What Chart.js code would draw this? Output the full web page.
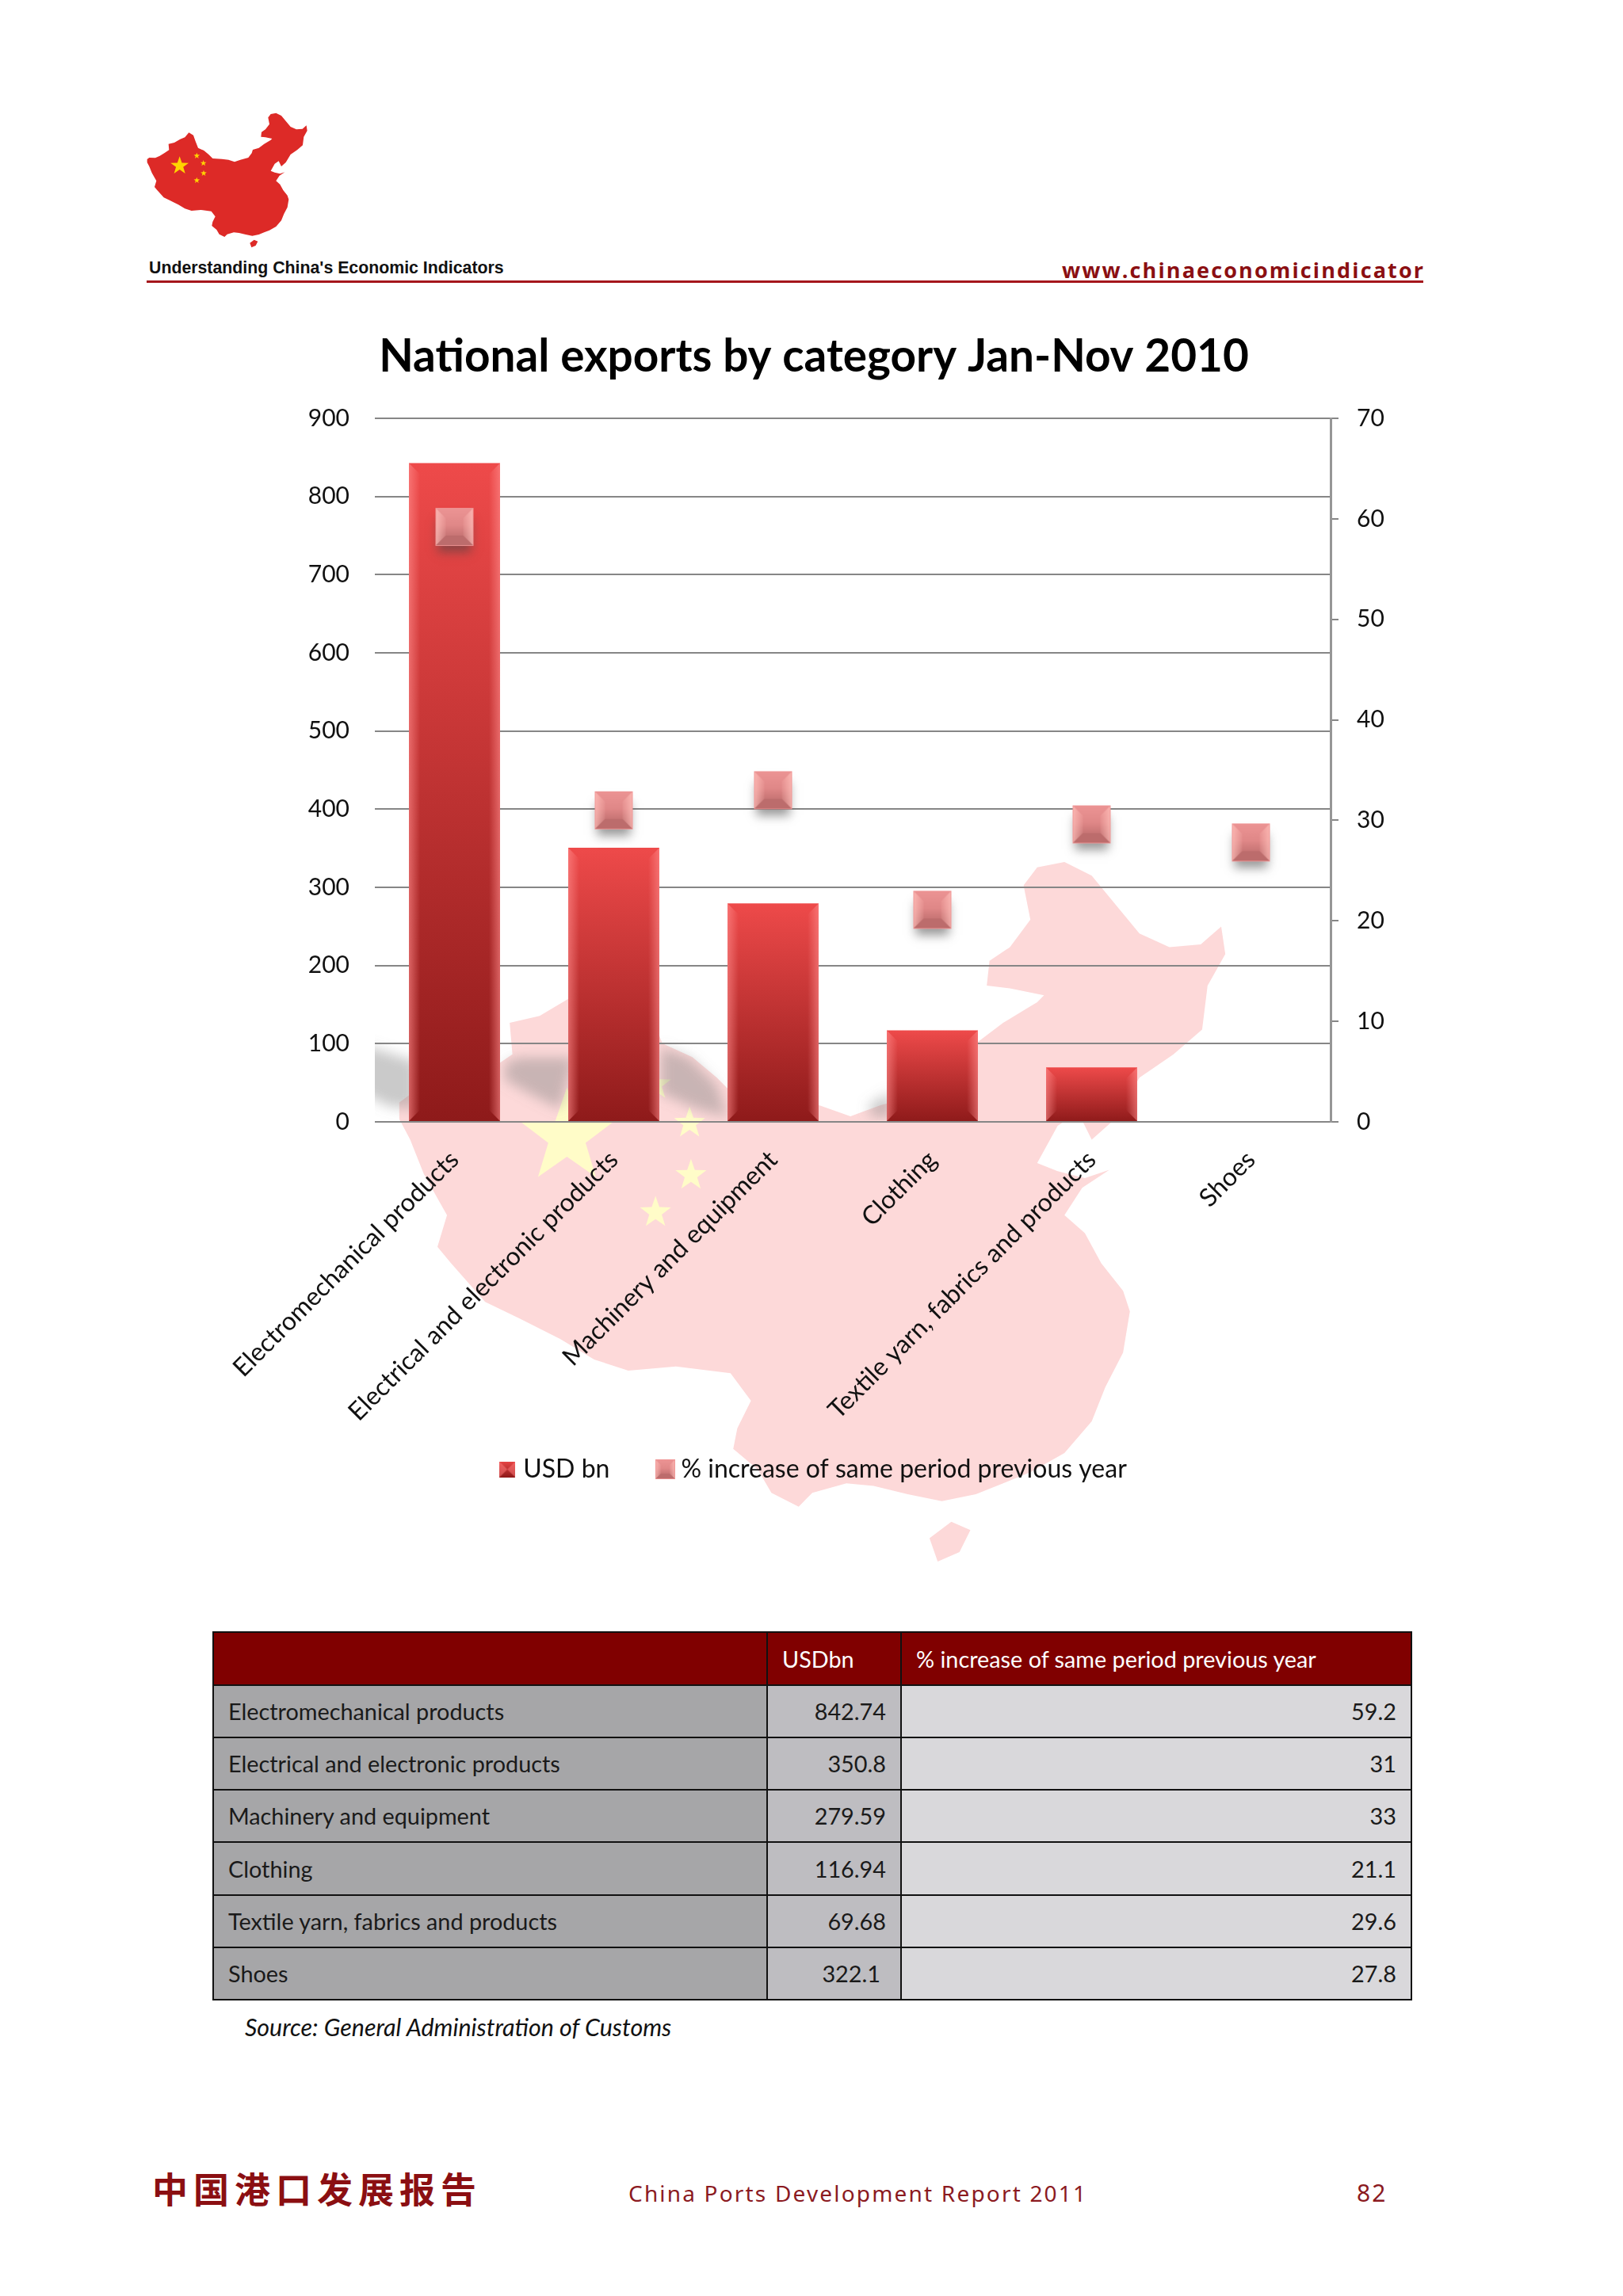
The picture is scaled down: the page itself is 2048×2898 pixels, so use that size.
<!DOCTYPE html>
<html>
<head>
<meta charset="utf-8">
<title>National exports by category Jan-Nov 2010</title>
<script src="https://cdn.jsdelivr.net/npm/chart.js@4"></script>
<style>
html, body { margin: 0; padding: 0; background: #fff; }
#page { position: relative; width: 2048px; height: 2898px; overflow: hidden; font-family: Lato, sans-serif; }
#page > * { position: absolute; }
#art { left: 0; top: 0; }
#chart { left: 0; top: 400px; }
.tag { left: 188px; top: 326px; font: bold 21.3px "Liberation Sans", sans-serif; color: #111; white-space: nowrap; }
.site { left: 1340px; top: 322px; font: bold 27px "Open Sans", sans-serif; letter-spacing: 2.13px; color: #8b0f12; white-space: nowrap; }
.rule { left: 185px; top: 354px; width: 1611px; height: 3px; background: #a5161b; }
table { left: 268px; top: 2059px; width: 1514px; height: 466px; border-collapse: collapse; table-layout: fixed; font-size: 28.8px; color: #1a1a1a; }
td, th { border: 2px solid #111; padding: 0 18px; font-weight: normal; text-align: right; white-space: nowrap; }
th { background: #800000; color: #fff; text-align: left; }
td.name { background: #a6a6a8; text-align: left; }
td.usd { background: #bebdc1; }
td.pct { background: #d9d8db; }
.source { left: 309px; top: 2540px; font-size: 30.4px; font-style: italic; white-space: nowrap; color: #111; }
.cn { left: 192px; top: 2729px; font: bold 45px "Noto Sans CJK SC", sans-serif; letter-spacing: 7px; color: #8b0f12; white-space: nowrap; }
.rep { left: 793px; top: 2749px; font: 28px "Noto Sans", sans-serif; letter-spacing: 2.18px; color: #8b1a1f; white-space: nowrap; }
.num { left: 1712px; top: 2747px; font: 30px "Noto Sans", sans-serif; letter-spacing: 2px; color: #8b1a1f; }
</style>
</head>
<body>
<div id="page">
  <svg id="art" width="2048" height="2898"></svg>
  <div class="tag">Understanding China's Economic Indicators</div>
  <div class="site">www.chinaeconomicindicator</div>
  <div class="rule"></div>
  <canvas id="chart" width="2048" height="1514"></canvas>
  <table id="tabela"></table>
  <div class="source">Source: General Administration of Customs</div>
  <div class="cn">中国港口发展报告</div>
  <div class="rep">China Ports Development Report 2011</div>
  <div class="num">82</div>
</div>
<script>
const categorias = ['Electromechanical products', 'Electrical and electronic products', 'Machinery and equipment', 'Clothing', 'Textile yarn, fabrics and products', 'Shoes'];
const usdBn = [842.74, 350.8, 279.59, 116.94, 69.68, null];
const aumento = [59.2, 31, 33, 21.1, 29.6, 27.8];
const usdTabela = ['842.74', '350.8', '279.59', '116.94', '69.68', '322.1'];
const aumentoTabela = ['59.2', '31', '33', '21.1', '29.6', '27.8'];
const titulo = 'National exports by category Jan-Nov 2010';
const nomeUsd = 'USD bn';
const nomeAumento = '% increase of same period previous year';

const pontos = [47,213, 55,207, 78,208, 95,200, 112,190, 130,178, 128,155, 150,150, 172,137, 190,130, 205,112, 222,122, 230,145, 240,170, 262,180, 280,195, 295,210, 330,212, 355,215, 378,223, 400,215, 430,207, 443,190, 447,177, 470,170, 490,155, 515,140, 520,135, 495,130, 478,128, 480,110, 495,100, 510,80, 505,55, 515,42, 535,38, 555,48, 575,72, 590,90, 612,100, 635,98, 650,85, 653,105, 640,128, 636,160, 615,178, 590,195, 572,225, 555,240, 545,220, 530,230, 515,257, 530,263, 550,268, 568,262, 548,275, 535,295, 550,308, 562,330, 578,350, 583,365, 578,395, 565,420, 555,445, 535,468, 510,482, 490,490, 470,498, 445,503, 420,498, 395,492, 375,490, 350,497, 340,507, 320,497, 310,480, 292,465, 295,450, 305,430, 290,410, 250,405, 215,408, 190,400, 165,385, 135,370, 110,358, 85,330, 75,318, 82,295, 65,265, 55,240, 47,225];
const ilha = [436,530, 452,518, 466,524, 458,540, 442,547];

function caminho(p) {
    let s = '';
    for (let i = 0; i < p.length; i += 2) s += (i ? 'L' : 'M') + p[i] + ',' + p[i + 1] + ' ';
    return s + 'Z ';
}

function estrela(cx, cy, r) {
    let p = [];
    for (let i = 0; i < 10; i++) {
        let rr = i % 2 ? r * 0.4 : r;
        let a = -Math.PI / 2 + i * Math.PI / 5;
        p.push((cx + rr * Math.cos(a)).toFixed(1) + ',' + (cy + rr * Math.sin(a)).toFixed(1));
    }
    return '<polygon points="' + p.join(' ') + '"/>';
}

function mapa(transform, cor, corEstrela) {
    return '<g transform="' + transform + '"><path d="' + caminho(pontos) + caminho(ilha) + '" fill="' + cor + '"/><g fill="' + corEstrela + '">' +
        estrela(170, 238, 36) + estrela(235, 200, 12) + estrela(260, 228, 12) + estrela(261, 266, 12) + estrela(235, 293, 12) + '</g></g>';
}

document.getElementById('art').innerHTML =
    '<defs><filter id="blur" x="-50%" y="-50%" width="200%" height="200%"><feGaussianBlur stdDeviation="8"/></filter>' +
    '<clipPath id="area"><rect x="473" y="1200" width="1206" height="214"/></clipPath></defs>' +
    mapa('translate(170,130) scale(0.3333)', '#dd2a27', '#ffd400') +
    mapa('translate(423,1022) scale(1.72,1.735)', '#fdd9d9', '#fffcc8') +
    '<g clip-path="url(#area)"><g filter="url(#blur)" fill="#808080" fill-opacity="0.42">' +
    '<path d="M455,1318 L525,1340 L525,1400 L490,1396 L455,1378 Z"/>' +
    '<path d="M637,1343 L653,1335 L725,1335 L707,1400 L673,1383 L637,1363 Z"/>' +
    '<path d="M834,1322 L870,1335 L905,1370 L918,1410 L880,1400 L834,1380 Z"/>' +
    '<path d="M1096,1395 L1125,1378 L1125,1410 L1100,1410 Z"/></g></g>';

// table
let linhas = '<tr style="height:67px"><th style="width:661px"></th><th style="width:131px">USDbn</th><th>' + nomeAumento + '</th></tr>';
categorias.forEach(function (c, i) {
    let extra = usdTabela[i] === '322.1' ? ' style="padding-right:25px"' : '';
    linhas += '<tr><td class="name">' + c + '</td><td class="usd"' + extra + '>' + usdTabela[i] + '</td><td class="pct">' + aumentoTabela[i] + '</td></tr>';
});
document.getElementById('tabela').innerHTML = linhas;

function poligono(g, p, cor) {
    g.fillStyle = cor;
    g.beginPath();
    g.moveTo(p[0], p[1]); g.lineTo(p[2], p[3]); g.lineTo(p[4], p[5]); g.lineTo(p[6], p[7]);
    g.closePath();
    g.fill();
}

// bevelled square used as point style
function quadrado(lado, borda, margem, sombra) {
    let c = document.createElement('canvas');
    c.width = c.height = lado + margem * 2;
    let g = c.getContext('2d');
    let a = margem, b = margem + lado;
    if (sombra) {
        g.save();
        g.shadowColor = 'rgba(70,70,70,0.55)';
        g.shadowBlur = 12;
        g.shadowOffsetY = 11;
        g.fillStyle = '#c88';
        g.fillRect(a + 3, a + 3, lado - 6, lado - 6);
        g.restore();
    }
    let f = g.createLinearGradient(0, a, 0, b);
    f.addColorStop(0, '#ec9494');
    f.addColorStop(0.45, '#e08888');
    f.addColorStop(1, '#b06262');
    g.fillStyle = f;
    g.fillRect(a, a, lado, lado);
    let i = a + borda, j = b - borda;
    let esq = g.createLinearGradient(a, 0, i, 0);
    esq.addColorStop(0, 'rgba(255,190,185,0.8)');
    esq.addColorStop(1, 'rgba(255,190,185,0.1)');
    let dir = g.createLinearGradient(b, 0, j, 0);
    dir.addColorStop(0, 'rgba(255,190,185,0.8)');
    dir.addColorStop(1, 'rgba(255,190,185,0.1)');
    poligono(g, [a, a, i, i, i, j, a, b], esq);
    poligono(g, [b, a, j, i, j, j, b, b], dir);
    poligono(g, [a, b, i, j, j, j, b, b], '#bc6c6c');
    g.strokeStyle = 'rgba(240,150,150,0.9)';
    g.lineWidth = 1;
    g.strokeRect(a + 0.5, a + 0.5, lado - 1, lado - 1);
    return c;
}

function quadradoUsd(lado) {
    let c = document.createElement('canvas');
    c.width = c.height = lado;
    let g = c.getContext('2d');
    let f = g.createLinearGradient(0, 0, 0, lado);
    f.addColorStop(0, '#e84545');
    f.addColorStop(1, '#8f1a1a');
    g.fillStyle = f;
    g.fillRect(0, 0, lado, lado);
    g.fillStyle = 'rgba(255,120,120,0.55)';
    g.beginPath();
    g.moveTo(0, 0); g.lineTo(lado / 2, lado / 2); g.lineTo(0, lado); g.closePath();
    g.moveTo(lado, 0); g.lineTo(lado / 2, lado / 2); g.lineTo(lado, lado); g.closePath();
    g.fill();
    return c;
}

// bevel of the bars
const chanfro = {
    id: 'chanfro',
    afterDatasetDraw(chart, args) {
        if (args.index !== 0) return;
        let g = chart.ctx;
        args.meta.data.forEach(function (bar) {
            if (bar.skip || bar.base - bar.y < 1) return;
            let l = bar.x - bar.width / 2, r = bar.x + bar.width / 2, t = bar.y, b = bar.base, e = 14;
            let esq = g.createLinearGradient(l, 0, l + e, 0);
            esq.addColorStop(0, 'rgba(255,140,140,0.6)');
            esq.addColorStop(1, 'rgba(255,140,140,0)');
            let dir = g.createLinearGradient(r, 0, r - e, 0);
            dir.addColorStop(0, 'rgba(255,140,140,0.6)');
            dir.addColorStop(1, 'rgba(255,140,140,0)');
            g.save();
            poligono(g, [l, t, l + e, t + e, l + e, b - e, l, b], esq);
            poligono(g, [r, t, r - e, t + e, r - e, b - e, r, b], dir);
            g.restore();
        });
    }
};

// the long x labels need a tall axis box, the legend sits inside it
const moveLegenda = {
    id: 'moveLegenda',
    afterLayout(chart) {
        let l = chart.legend;
        l.top -= 33.4;
        l.bottom -= 33.4;
        l.left += 2;
        l.right += 2;
    }
};

const cinza = '#868686';
const fonte = 'Lato, sans-serif';

new Chart(document.getElementById('chart'), {
    data: {
        labels: categorias,
        datasets: [{
            type: 'bar',
            label: nomeUsd,
            data: usdBn,
            yAxisID: 'y',
            order: 2,
            barPercentage: 0.572,
            categoryPercentage: 1,
            backgroundColor: function (ctx) {
                let chart = ctx.chart;
                if (!chart.chartArea || ctx.parsed === undefined || ctx.parsed.y === null) return '#c03030';
                let y = chart.scales.y;
                let f = chart.ctx.createLinearGradient(0, y.getPixelForValue(ctx.parsed.y), 0, y.getPixelForValue(0));
                f.addColorStop(0, '#ee4a4a');
                f.addColorStop(1, '#8e1a1a');
                return f;
            }
        }, {
            type: 'line',
            label: nomeAumento,
            data: aumento,
            yAxisID: 'y1',
            order: 1,
            showLine: false,
            pointStyle: quadrado(48, 13, 26, true)
        }]
    },
    options: {
        responsive: false,
        animation: false,
        devicePixelRatio: 1,
        layout: { padding: { left: 6, right: 0, top: 0, bottom: 0 } },
        plugins: {
            tooltip: { enabled: false },
            title: {
                display: true,
                text: titulo,
                color: '#000',
                font: { family: fonte, size: 56.7, weight: 'bold' },
                padding: { top: 17, bottom: 43 }
            },
            legend: {
                position: 'bottom',
                labels: {
                    usePointStyle: true,
                    boxWidth: 8,
                    boxHeight: 25,
                    padding: 66,
                    color: '#111',
                    font: { family: fonte, size: 32 },
                    generateLabels: function () {
                        return [
                            { text: nomeUsd, pointStyle: quadradoUsd(20), datasetIndex: 0, fontColor: '#111' },
                            { text: nomeAumento, pointStyle: quadrado(25, 7, 0, false), datasetIndex: 1, fontColor: '#111' }
                        ];
                    }
                }
            }
        },
        scales: {
            x: {
                grid: { display: false },
                border: { display: false },
                ticks: {
                    color: '#111',
                    font: { family: fonte, size: 32 },
                    minRotation: 45,
                    maxRotation: 45,
                    autoSkip: false,
                    padding: 21
                },
                afterFit: function (s) { s.height = 390; }
            },
            y: {
                position: 'left',
                min: 0,
                max: 900,
                grid: { color: cinza, lineWidth: 2, drawTicks: false },
                border: { display: false },
                ticks: { stepSize: 100, color: '#111', padding: 32, font: { family: fonte, size: 30 } },
                afterFit: function (s) { s.width = 467; }
            },
            y1: {
                position: 'right',
                min: 0,
                max: 70,
                grid: { drawOnChartArea: false, color: cinza, lineWidth: 2, tickLength: 10 },
                border: { color: '#969696', width: 3 },
                ticks: { stepSize: 10, color: '#111', padding: 23, font: { family: fonte, size: 30 } },
                afterFit: function (s) { s.width = 369; }
            }
        }
    },
    plugins: [chanfro, moveLegenda]
});
</script>
</body>
</html>
